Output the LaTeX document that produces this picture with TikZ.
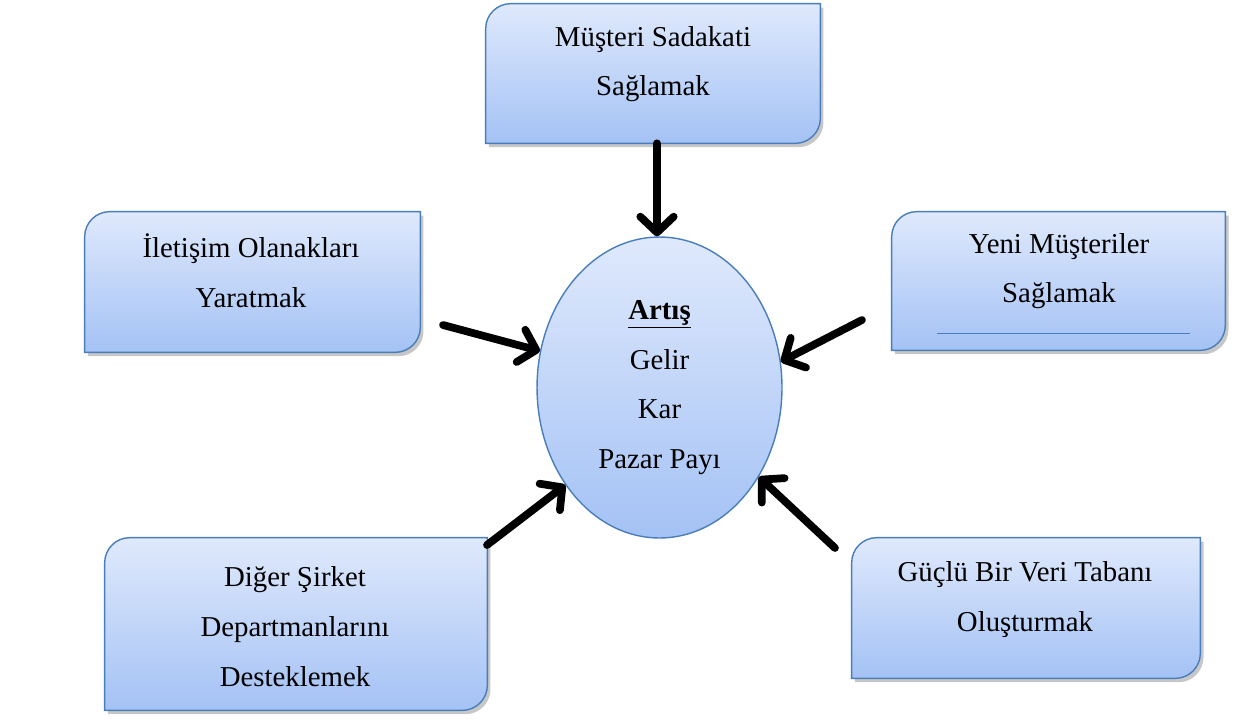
\documentclass[tikz,border=0pt]{standalone}
\usepackage{fontspec}
\setmainfont{Liberation Serif}
\usetikzlibrary{arrows.meta,shapes,positioning,shadows}
\definecolor{ustmavi}{RGB}{223,233,252}
\definecolor{altmavi}{RGB}{164,194,245}
\definecolor{cerceve}{RGB}{74,126,187}

% kutu: sol ust ve sag alt koseleri yuvarlak
\newcommand{\kutuciz}[1]{%
  \path[kutu] (#1.north east) -- ([xshift=0.5cm]#1.north west)
    arc[start angle=90, end angle=180, radius=0.5cm] -- (#1.south west)
    -- ([xshift=-0.5cm]#1.south east)
    arc[start angle=270, end angle=360, radius=0.5cm] -- cycle;}

\begin{document}
\begin{tikzpicture}[x=0.02cm, y=-0.02cm,
    font=\fontsize{16.4}{28.3}\selectfont,
    kutuyer/.style 2 args={minimum width=#1, minimum height=#2, inner sep=0pt},
    kutu/.style={draw=cerceve, line width=0.8pt, top color=ustmavi, bottom color=altmavi,
      drop shadow={shadow xshift=1.8pt, shadow yshift=-2.2pt, opacity=0.22, fill=black}},
    yazi/.style={align=center, inner sep=0pt},
    ok/.style={line width=4.4pt, line cap=round, -{Straight Barb[length=9pt, width=19pt, round]}}]
  \useasboundingbox[fill=white] (0,0) rectangle (1246,727);

  % kutular
  \node[kutuyer={6.68cm}{2.78cm}] (musteri) at (653,73.5) {};
  \node[kutuyer={6.70cm}{2.80cm}] (iletisim) at (252.5,282) {};
  \node[kutuyer={6.66cm}{2.76cm}] (yeni) at (1058.5,281) {};
  \node[kutuyer={7.64cm}{3.44cm}] (diger) at (296,624) {};
  \node[kutuyer={6.96cm}{2.80cm}] (guclu) at (1026,608) {};
  \kutuciz{musteri}
  \kutuciz{iletisim}
  \kutuciz{yeni}
  \kutuciz{diger}
  \kutuciz{guclu}
  \draw[cerceve, line width=0.6pt] ([xshift=0.9cm,yshift=0.34cm]yeni.south west)
    -- ([xshift=-0.7cm,yshift=0.34cm]yeni.south east);

  \node[yazi] (musteriYazi) at (653,64) {Müşteri Sadakati\\Sağlamak};
  \node[yazi] (iletisimYazi) at (251,270.5) {İletişim Olanakları\\Yaratmak};
  \node[yazi] (yeniYazi) at (1059,271) {Yeni Müşteriler\\Sağlamak};
  \node[yazi] (digerYazi) at (295,626.5) {Diğer Şirket\\Departmanlarını\\Desteklemek};
  \node[yazi] (gucluYazi) at (1025,599.5) {Güçlü Bir Veri Tabanı\\Oluşturmak};

  % merkez
  \node[ellipse, draw=cerceve, line width=0.8pt, top color=ustmavi, bottom color=altmavi,
    minimum width=4.9cm, minimum height=6.02cm, inner sep=0pt, align=center]
    (artis) at (659.5,387.5) {\underline{\textbf{Artış}}\\Gelir\\Kar\\Pazar Payı};

  % oklar
  \coordinate (iletisimUc) at (443,325);
  \coordinate (yeniUc) at (862,320);
  \coordinate (digerUc) at (487,545);
  \coordinate (gucluUc) at (835,548);
  \draw[ok] ([xshift=-0.05cm]musteri.south -| artis.north) -- ([xshift=-0.05cm]artis.north);
  \draw[ok] (iletisimUc) -- (artis.163);
  \draw[ok] (yeniUc) -- (artis.12);
  \draw[ok] (digerUc) -- (artis.226);
  \draw[ok] (gucluUc) -- (artis.318);
\end{tikzpicture}
\end{document}
